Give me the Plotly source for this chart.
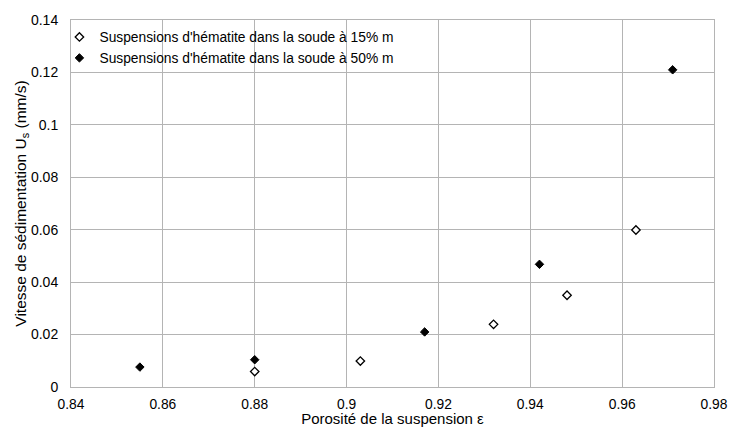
import plotly.graph_objects as go

# Series 1: hematite in 15% soda (open diamonds)
x_15 = [0.880, 0.903, 0.932, 0.948, 0.963]
y_15 = [0.0059, 0.0099, 0.0239, 0.0350, 0.0599]

# Series 2: hematite in 50% soda (filled diamonds)
x_50 = [0.855, 0.880, 0.917, 0.942, 0.971]
y_50 = [0.0076, 0.0104, 0.0210, 0.0468, 0.1210]

name_15 = "Suspensions d'hématite dans la soude à 15% m"
name_50 = "Suspensions d'hématite dans la soude à 50% m"

x_ticks = [0.84, 0.86, 0.88, 0.90, 0.92, 0.94, 0.96, 0.98]
x_ticktext = ["0.84", "0.86", "0.88", "0.9", "0.92", "0.94", "0.96", "0.98"]
y_ticks = [0, 0.02, 0.04, 0.06, 0.08, 0.10, 0.12, 0.14]
y_ticktext = ["0", "0.02", "0.04", "0.06", "0.08", "0.1", "0.12", "0.14"]

FONT = "Liberation Sans, Arial, sans-serif"
GRID = "#b4b4b4"
CLEAR = "rgba(0,0,0,0)"

fig = go.Figure()
fig.add_trace(go.Scatter(
    x=x_15, y=y_15, mode="markers", name=name_15,
    marker=dict(symbol="diamond", size=6.5, color="white",
                line=dict(color="black", width=1.3)),
))
fig.add_trace(go.Scatter(
    x=x_50, y=y_50, mode="markers", name=name_50,
    marker=dict(symbol="diamond", size=6.5, color="black",
                line=dict(color="black", width=1)),
))

# white background behind the legend (hides gridlines, keeps frame)
fig.add_shape(type="rect", xref="paper", yref="paper",
              x0=0.003, x1=0.503, y0=0.868, y1=0.987,
              fillcolor="white", line=dict(width=0), layer="between")

fig.update_layout(
    width=729, height=427,
    margin=dict(l=71, r=15, t=20, b=40, autoexpand=False),
    paper_bgcolor="white", plot_bgcolor="white",
    font=dict(family=FONT, size=14, color="#000000"),
    showlegend=True,
    legend=dict(
        x=-0.018, y=0.996, xanchor="left", yanchor="top",
        bgcolor=CLEAR, borderwidth=0,
        font=dict(family=FONT, size=13.8, color="#000000"),
        itemwidth=30, tracegroupgap=0,
    ),
    xaxis=dict(
        range=[0.84, 0.98], tickvals=x_ticks, ticktext=x_ticktext,
        showgrid=True, gridcolor=GRID, gridwidth=1,
        showline=True, linecolor=GRID, linewidth=1, mirror=True,
        zeroline=False, ticks="outside", ticklen=4, tickcolor=CLEAR,
        tickfont=dict(family=FONT, size=13.8), automargin=False,
        title=dict(text="Porosité de la suspension ε", standoff=4,
                   font=dict(family=FONT, size=15)),
    ),
    yaxis=dict(
        range=[0, 0.14], tickvals=y_ticks, ticktext=y_ticktext,
        showgrid=True, gridcolor=GRID, gridwidth=1,
        showline=True, linecolor=GRID, linewidth=1, mirror=True,
        zeroline=False, ticks="outside", ticklen=9, tickcolor=CLEAR,
        tickfont=dict(family=FONT, size=14), automargin=False,
        title=dict(text="Vitesse de sédimentation U<sub>s</sub> (mm/s)", standoff=0,
                   font=dict(family=FONT, size=15.5)),
    ),
)

# remove the page's default body margin so the 729x427 figure fills the window
fig.write_html(
    "out.html",
    config={"displayModeBar": False},
    post_script="document.body.style.margin='0';document.body.style.overflow='hidden';",
)
